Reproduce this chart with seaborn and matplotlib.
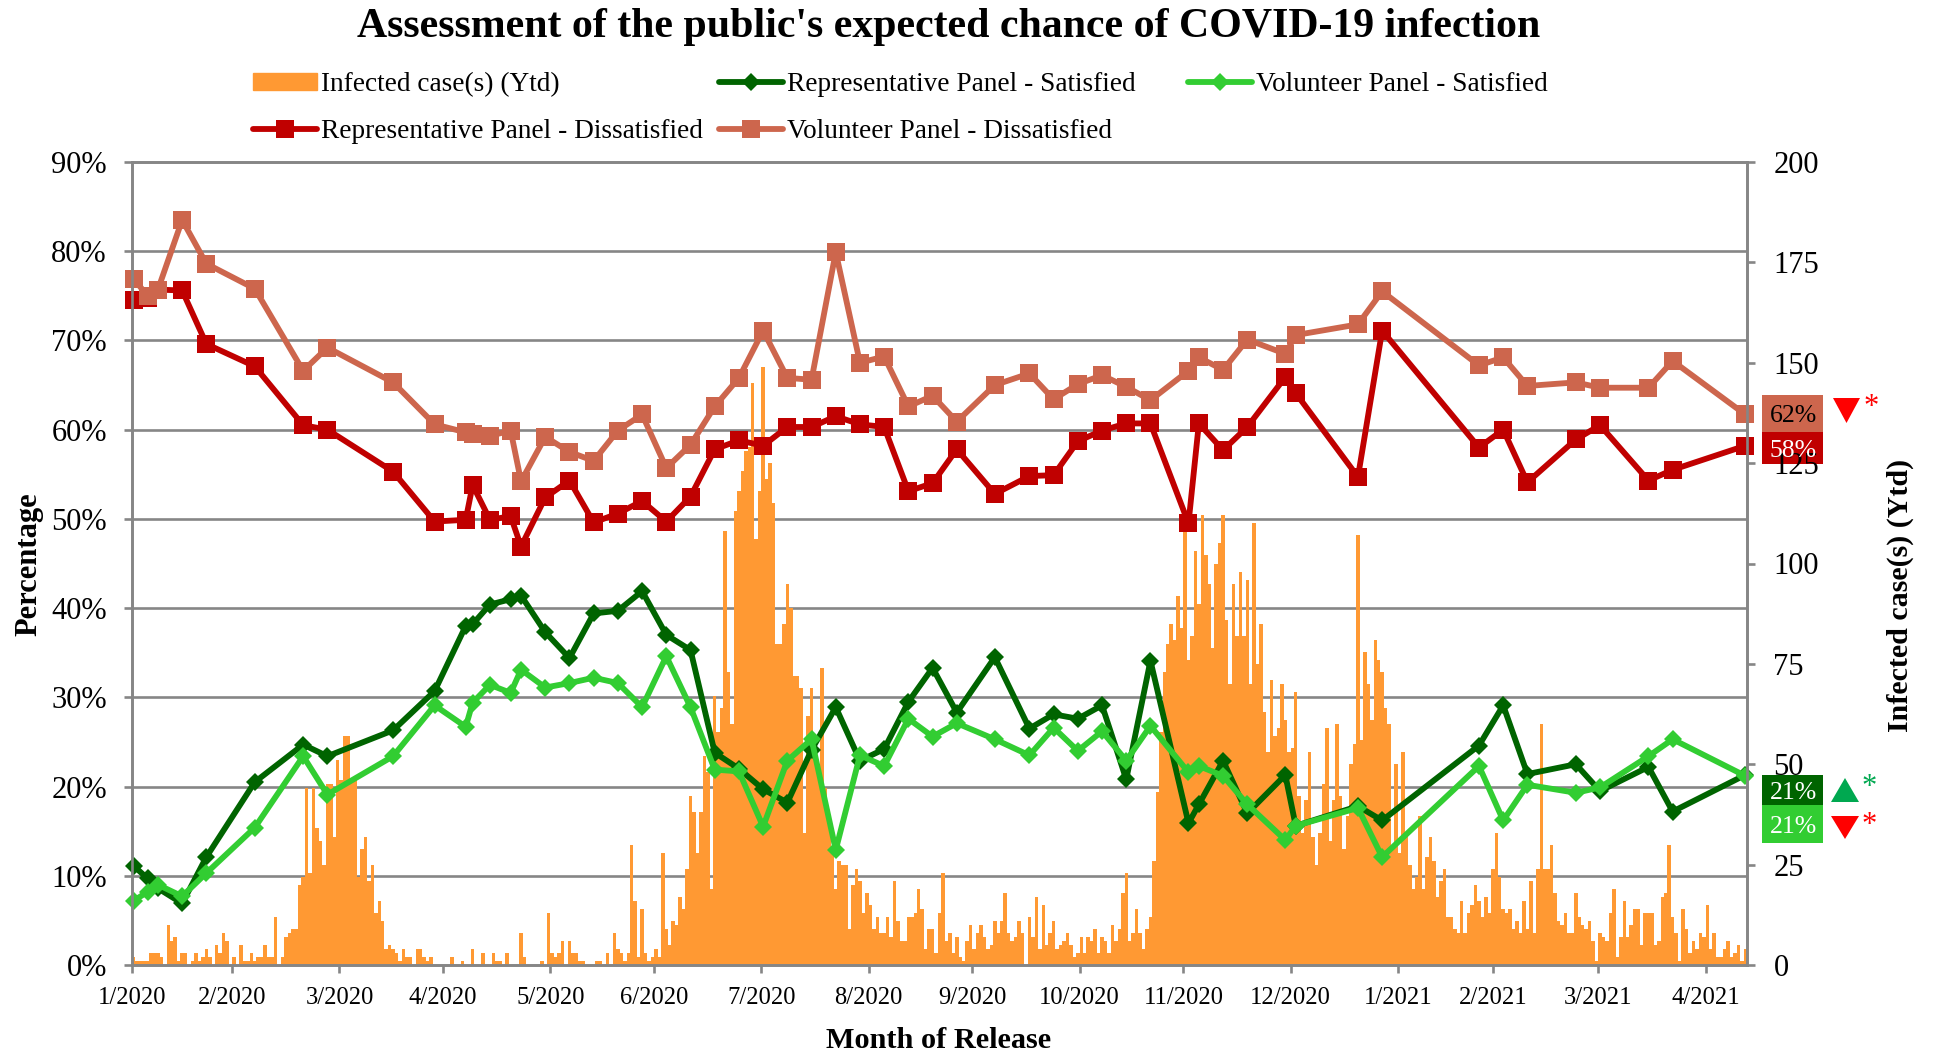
import matplotlib
matplotlib.use("Agg")
import matplotlib.pyplot as plt
from matplotlib.patches import Patch, Polygon, Rectangle
import seaborn as sns

# daily cases, one value per day
infected_cases = [
    2, 1, 1, 1, 1, 3, 3, 3, 2, 0,
    10, 6, 7, 1, 3, 3, 0, 1, 3, 1,
    2, 4, 2, 0, 5, 3, 8, 6, 0, 2,
    0, 5, 1, 1, 3, 1, 2, 2, 5, 2,
    2, 12, 0, 2, 7, 8, 9, 9, 20, 22,
    44, 23, 44, 34, 31, 25, 45, 45, 32, 51,
    46, 57, 57, 46, 46, 22, 29, 32, 21, 25,
    13, 16, 11, 4, 5, 4, 3, 1, 4, 2,
    2, 0, 4, 4, 2, 1, 2, 0, 0, 0,
    0, 0, 2, 0, 0, 1, 0, 0, 4, 0,
    0, 3, 0, 0, 3, 1, 1, 0, 3, 0,
    0, 0, 8, 2, 0, 0, 0, 0, 1, 0,
    13, 3, 2, 3, 6, 0, 6, 3, 3, 1,
    1, 0, 0, 0, 1, 1, 0, 3, 0, 8,
    4, 3, 1, 3, 30, 16, 2, 14, 3, 1,
    2, 4, 2, 28, 9, 5, 11, 10, 17, 14,
    24, 42, 38, 28, 38, 52, 48, 19, 67, 58,
    64, 108, 73, 60, 113, 118, 123, 128, 129, 145,
    106, 118, 149, 121, 125, 115, 80, 80, 85, 95,
    89, 72, 72, 69, 33, 62, 69, 54, 50, 74,
    44, 37, 29, 19, 26, 25, 25, 9, 20, 24,
    21, 13, 18, 15, 9, 12, 8, 8, 12, 7,
    21, 11, 6, 6, 12, 12, 13, 19, 14, 4,
    9, 9, 3, 13, 23, 6, 8, 3, 7, 2,
    1, 6, 10, 4, 8, 10, 7, 4, 5, 11,
    8, 11, 18, 8, 6, 7, 11, 8, 0, 12,
    7, 17, 4, 15, 5, 8, 11, 4, 5, 6,
    8, 5, 2, 3, 7, 3, 7, 6, 9, 3,
    7, 6, 3, 10, 6, 9, 18, 23, 6, 8,
    14, 8, 4, 9, 12, 26, 43, 58, 73, 80,
    85, 81, 92, 84, 112, 76, 82, 103, 90, 112,
    102, 95, 79, 100, 105, 112, 86, 70, 95, 82,
    98, 82, 96, 70, 110, 75, 85, 63, 53, 71,
    57, 59, 70, 61, 53, 54, 68, 42, 33, 41,
    53, 32, 25, 33, 45, 59, 31, 41, 60, 42,
    29, 37, 50, 55, 107, 56, 78, 70, 61, 81,
    76, 73, 64, 60, 29, 50, 28, 53, 33, 25,
    19, 22, 37, 19, 27, 32, 26, 17, 21, 24,
    12, 12, 9, 8, 16, 8, 13, 15, 20, 16,
    12, 17, 13, 24, 33, 22, 14, 13, 14, 9,
    11, 8, 16, 9, 21, 8, 24, 60, 24, 24,
    30, 18, 11, 10, 13, 8, 8, 18, 12, 10,
    9, 11, 6, 1, 8, 7, 6, 13, 19, 2,
    7, 16, 7, 10, 14, 14, 5, 13, 13, 13,
    5, 6, 17, 18, 30, 12, 8, 1, 14, 9,
    3, 6, 4, 8, 7, 15, 4, 8, 2, 2,
    4, 6, 2, 3, 5, 1, 4,
]

# survey days, same day index as the cases
poll_days = [
    0, 4, 7, 14, 21, 35, 49, 56, 75, 87,
    96, 98, 103, 109, 112, 119, 126, 133, 140, 147,
    154, 161, 168, 175, 182, 189, 196, 203, 210, 217,
    224, 231, 238, 249, 259, 266, 273, 280, 287, 294,
    305, 308, 315, 322, 333, 336, 354, 361, 389, 396,
    403, 417, 424, 438, 445, 466,
]
rep_satisfied = [
    11.1, 9.7, 8.6, 6.9, 12.1, 20.5, 24.7, 23.4, 26.3, 30.7,
    38.0, 38.2, 40.4, 41.0, 41.4, 37.3, 34.4, 39.4, 39.7, 41.9,
    37.0, 35.3, 23.8, 22.0, 19.7, 18.2, 24.1, 28.9, 22.9, 24.2,
    29.5, 33.3, 28.3, 34.5, 26.5, 28.1, 27.6, 29.1, 20.8, 34.1,
    15.9, 18.0, 22.9, 17.0, 21.3, 15.6, 17.8, 16.2, 24.6, 29.1,
    21.4, 22.5, 19.5, 22.2, 17.2, 21.3,
]
vol_satisfied = [
    7.2, 8.2, 9.0, 7.7, 10.3, 15.4, 23.4, 19.1, 23.4, 29.1,
    26.7, 29.4, 31.4, 30.5, 33.1, 31.1, 31.6, 32.2, 31.6, 28.9,
    34.6, 28.9, 21.9, 21.7, 15.5, 22.9, 25.3, 12.9, 23.5, 22.3,
    27.6, 25.6, 27.1, 25.3, 23.5, 26.6, 24.0, 26.2, 22.9, 26.8,
    21.6, 22.3, 21.2, 18.0, 14.0, 15.6, 17.6, 12.1, 22.3, 16.2,
    20.2, 19.3, 19.9, 23.4, 25.3, 21.2,
]
rep_dissatisfied = [
    74.5, 74.8, 75.7, 75.6, 69.6, 67.1, 60.5, 60.0, 55.3, 49.7,
    49.9, 53.8, 49.9, 50.3, 46.9, 52.4, 54.3, 49.6, 50.6, 52.0,
    49.7, 52.5, 57.8, 58.8, 58.2, 60.3, 60.3, 61.5, 60.6, 60.3,
    53.1, 54.0, 57.8, 52.8, 54.8, 54.9, 58.7, 59.9, 60.7, 60.7,
    49.5, 60.7, 57.7, 60.3, 65.9, 64.1, 54.7, 71.1, 58.0, 60.0,
    54.1, 58.9, 60.5, 54.3, 55.5, 58.2,
]
vol_dissatisfied = [
    76.9, 75.0, 75.7, 83.5, 78.6, 75.8, 66.6, 69.2, 65.3, 60.6,
    59.7, 59.5, 59.3, 59.9, 54.2, 59.2, 57.5, 56.5, 59.9, 61.7,
    55.7, 58.3, 62.6, 65.8, 71.1, 65.8, 65.6, 79.9, 67.5, 68.2,
    62.6, 63.8, 60.9, 65.0, 66.3, 63.4, 65.1, 66.1, 64.8, 63.3,
    66.6, 68.1, 66.7, 70.1, 68.5, 70.6, 71.8, 75.5, 67.2, 68.1,
    64.9, 65.3, 64.7, 64.7, 67.7, 61.7,
]

month_ticks = [-0.5, 28.5, 59.5, 89.5, 120.5, 150.5, 181.5, 212.5, 242.5, 273.5,
               303.5, 334.5, 365.5, 393, 423.5, 454.5]
month_labels = ["1/2020", "2/2020", "3/2020", "4/2020", "5/2020", "6/2020", "7/2020", "8/2020",
                "9/2020", "10/2020", "11/2020", "12/2020", "1/2021", "2/2021", "3/2021", "4/2021"]
pct_ticks = [0, 10, 20, 30, 40, 50, 60, 70, 80, 90]
case_ticks = [0, 25, 50, 75, 100, 125, 150, 175, 200]

ORANGE = "#FF9933"
DARK_GREEN = "#006400"
GREEN = "#32CD32"
RED = "#C00000"
LIGHT_RED = "#CD664D"
GREY = "#868686"

W, H = 1935, 1055


def fx(px):
    return px / W


def fy(py):
    return 1 - py / H


sns.set_theme(style="white")
plt.rcParams["font.family"] = ["Liberation Serif", "DejaVu Serif"]
plt.rcParams["text.color"] = "black"

fig = plt.figure(figsize=(W / 100, H / 100), dpi=100)
left, right, top, bottom = 132, 1747, 162, 965
ax2 = fig.add_axes([fx(left), fy(bottom), (right - left) / W, (bottom - top) / H])
ax = ax2.twinx()
ax2.yaxis.tick_right()
ax.yaxis.tick_left()
ax.set_zorder(2)
ax2.set_zorder(1)
ax.patch.set_visible(False)

# bars on the right axis, gridlines live there too so bars cover them
sns.barplot(x=list(range(len(infected_cases))), y=infected_cases, ax=ax2, native_scale=True,
            width=1, color=ORANGE, saturation=1, linewidth=0, zorder=2)
ax2.set_xlim(-0.5, len(infected_cases) - 0.5)
ax2.set_ylim(0, 200)
ax2.set_yticks(case_ticks)
ax2.set_yticks([p * 200 / 90 for p in pct_ticks], minor=True)
ax2.grid(True, which="minor", axis="y", color=GREY, linewidth=1.9, zorder=0)
ax2.set_axisbelow(True)
ax2.tick_params(axis="y", which="minor", length=0)
ax2.tick_params(axis="y", which="major", direction="out", length=6, width=1.9, color=GREY,
                labelsize=22, labelcolor="black", pad=13, right=True, left=False,
                labelright=True, labelleft=False)
ax2.set_xticks(month_ticks)
ax2.set_xticklabels(month_labels)
ax2.tick_params(axis="x", direction="out", length=6, width=1.9, color=GREY, labelsize=17.7,
                labelcolor="black", pad=10, bottom=True)
ax2.set_xlabel("")
ax2.set_ylabel("")

series = [
    (rep_satisfied, DARK_GREEN, "D", 9, "Representative Panel - Satisfied"),
    (vol_satisfied, GREEN, "D", 9, "Volunteer Panel - Satisfied"),
    (rep_dissatisfied, RED, "s", 12.5, "Representative Panel - Dissatisfied"),
    (vol_dissatisfied, LIGHT_RED, "s", 12.5, "Volunteer Panel - Dissatisfied"),
]
for values, colour, mark, size, name in series:
    sns.lineplot(x=poll_days, y=values, ax=ax, color=colour, marker=mark, markersize=size,
                 markeredgewidth=0, linewidth=4.2, estimator=None, sort=False, label=name,
                 legend=False, clip_on=False)
ax.set_xlim(-0.5, len(infected_cases) - 0.5)
ax.set_ylim(0, 90)
ax.set_yticks(pct_ticks)
ax.set_yticklabels([f"{p}%" for p in pct_ticks])
ax.tick_params(axis="y", direction="out", length=6, width=1.9, color=GREY, labelsize=22,
               labelcolor="black", pad=12, left=True, right=False, labelleft=True, labelright=False)
ax.set_ylabel("")
ax.grid(False)

for a in (ax, ax2):
    for s in a.spines.values():
        s.set_color(GREY)
        s.set_linewidth(1.9)
        s.set_visible(True)

# texts placed by pixel
fig.text(fx(949), fy(27), "Assessment of the public's expected chance of COVID-19 infection",
         ha="center", va="center", fontsize=30.2, fontweight="bold")
fig.text(fx(939), fy(1041), "Month of Release", ha="center", va="center", fontsize=21.8, fontweight="bold")
fig.text(fx(29), fy(564), "Percentage", rotation=90, ha="center", va="center", fontsize=22, fontweight="bold")
fig.text(fx(1900), fy(595), "Infected case(s) (Ytd)", rotation=90, ha="center", va="center",
         fontsize=21.6, fontweight="bold")

# legend, three blocks so the columns sit where they do in the original
lines = {l.get_label(): l for l in ax.get_lines()}
legend_opts = dict(frameon=False, loc="upper left", fontsize=19.6, borderpad=0, borderaxespad=0,
                   handlelength=2.35, handletextpad=0.15, labelspacing=0.8, handleheight=0.6)
orange_patch = Patch(color=ORANGE, label="Infected case(s) (Ytd)")
fig.legend(handles=[orange_patch, lines[series[2][4]]], bbox_to_anchor=(fx(253), fy(72)), **legend_opts)
fig.legend(handles=[lines[series[0][4]], lines[series[3][4]]], bbox_to_anchor=(fx(719), fy(72)), **legend_opts)
fig.legend(handles=[lines[series[1][4]]], bbox_to_anchor=(fx(1188), fy(72)), **legend_opts)

# end of line labels at the right
boxes = [
    (395, 432, LIGHT_RED, "62%", "black"),
    (432, 464, RED, "58%", "white"),
    (775, 805, DARK_GREEN, "21%", "white"),
    (805, 843, GREEN, "21%", "white"),
]
for y0, y1, colour, txt, tc in boxes:
    fig.add_artist(Rectangle((fx(1762), fy(y1)), 61 / W, (y1 - y0) / H, transform=fig.transFigure,
                             facecolor=colour, edgecolor="none", zorder=0.5))
    fig.text(fx(1793), fy((y0 + y1) / 2 + 3), txt, ha="center", va="center", fontsize=18.5, color=tc, zorder=3)

# change arrows with significance stars
arrows = [
    (1833, 1860, 398, 423, "down", "#FF0000", 1871, 408),
    (1831, 1859, 778, 802, "up", "#00A850", 1869, 788),
    (1831, 1859, 816, 839, "down", "#FF0000", 1869, 825),
]
for x0, x1, y0, y1, way, colour, sx, sy in arrows:
    if way == "down":
        pts = [(x0, y0), (x1, y0), ((x0 + x1) / 2, y1)]
    else:
        pts = [(x0, y1), (x1, y1), ((x0 + x1) / 2, y0)]
    fig.add_artist(Polygon([(fx(a), fy(b)) for a, b in pts], closed=True, transform=fig.transFigure,
                           facecolor=colour, edgecolor="none"))
    fig.text(fx(sx), fy(sy), "*", ha="center", va="center", fontsize=22, color=colour)

fig.savefig("out.png", dpi=100)
plt.close(fig)
